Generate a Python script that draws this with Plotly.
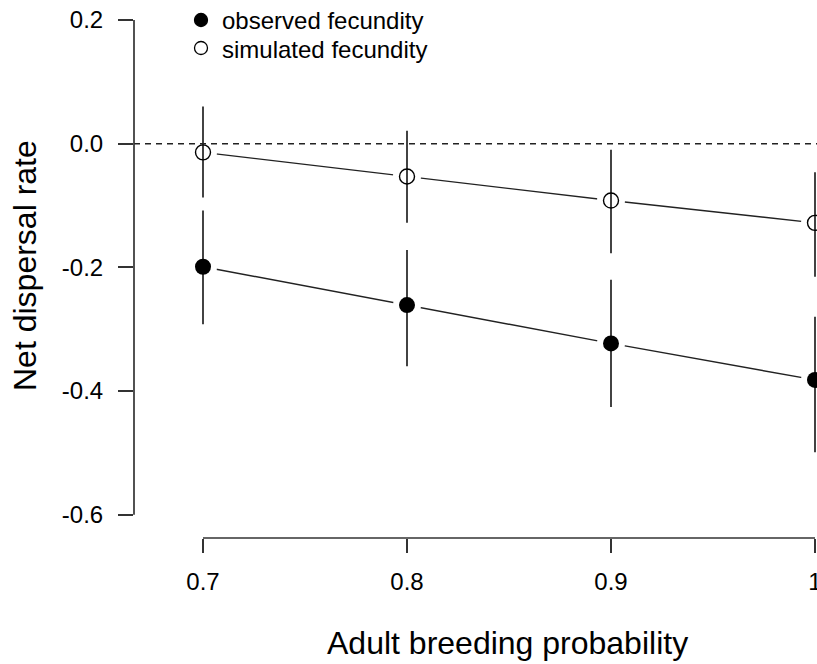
import plotly.graph_objects as go

# ---- data ----
breeding_prob = [0.7, 0.8, 0.9, 1.0]
x_tick_labels = ["0.7", "0.8", "0.9", "1"]
y_tick_vals = [-0.6, -0.4, -0.2, 0.0, 0.2]
y_tick_labels = ["-0.6", "-0.4", "-0.2", "0.0", "0.2"]

observed_mean = [-0.199, -0.261, -0.323, -0.382]
observed_low = [-0.292, -0.360, -0.426, -0.499]
observed_high = [-0.108, -0.172, -0.220, -0.280]

simulated_mean = [-0.014, -0.053, -0.092, -0.128]
simulated_low = [-0.087, -0.128, -0.177, -0.215]
simulated_high = [0.060, 0.021, -0.010, -0.046]

legend_labels = ["observed fecundity", "simulated fecundity"]

# ---- layout geometry ----
W, H = 817, 664
ML, MR, MT, MB = 134, 0, 5, 126
PW, PH = W - ML - MR, H - MT - MB
XPX = 2040.0   # px per x unit
YPX = 618.4    # px per y unit
x_lo = 0.7 - 69 / XPX
x_hi = x_lo + PW / XPX
y_hi = 0.2 + 15 / YPX
y_lo = y_hi - PH / YPX

INK = "#222222"
FONT = "Liberation Sans, Arial, sans-serif"

fig = go.Figure()

# connecting lines (type = "b" style, gaps made by white masks)
for ys in (observed_mean, simulated_mean):
    fig.add_trace(go.Scatter(x=breeding_prob, y=ys, mode="lines",
                             line=dict(color=INK, width=1.4),
                             showlegend=False, hoverinfo="skip"))
for ys in (observed_mean, simulated_mean):
    fig.add_trace(go.Scatter(x=breeding_prob, y=ys, mode="markers",
                             marker=dict(color="white", size=28, line=dict(width=0)),
                             showlegend=False, hoverinfo="skip"))

# points with error bars
fig.add_trace(go.Scatter(
    x=breeding_prob, y=observed_mean, mode="markers", name=legend_labels[0],
    marker=dict(symbol="circle", color="black", size=16, line=dict(width=0)),
    error_y=dict(type="data", symmetric=False,
                 array=[h - m for h, m in zip(observed_high, observed_mean)],
                 arrayminus=[m - l for m, l in zip(observed_mean, observed_low)],
                 color=INK, thickness=1.7, width=0),
    showlegend=False))
fig.add_trace(go.Scatter(
    x=breeding_prob, y=simulated_mean, mode="markers", name=legend_labels[1],
    marker=dict(symbol="circle-open", color="black", size=15, line=dict(width=1.4, color="black")),
    error_y=dict(type="data", symmetric=False,
                 array=[h - m for h, m in zip(simulated_high, simulated_mean)],
                 arrayminus=[m - l for m, l in zip(simulated_mean, simulated_low)],
                 color=INK, thickness=1.7, width=0),
    showlegend=False))

shapes = [
    # dashed reference line at zero
    dict(type="line", xref="paper", x0=0, x1=1, yref="y", y0=0, y1=0,
         line=dict(color=INK, width=1.5, dash="6px,5px"), layer="above"),
    # R-style axis lines spanning only the tick range
    dict(type="line", xref="paper", x0=0, x1=0, yref="y",
         y0=y_tick_vals[0], y1=y_tick_vals[-1], line=dict(color="#333333", width=1.7)),
    dict(type="line", xref="x", x0=breeding_prob[0], x1=breeding_prob[-1],
         yref="paper", y0=0, y1=0, line=dict(color="#333333", width=1.7)),
]

# legend (manual, R style)
def px_to_paper_x(px):
    return (px - ML) / PW

def px_to_paper_y(py):
    return (MT + PH - py) / PH

leg_rows = [21, 49]
for i, (label, yy) in enumerate(zip(legend_labels, leg_rows)):
    shapes.append(dict(type="circle", xref="paper", yref="paper",
                       xsizemode="pixel", ysizemode="pixel",
                       xanchor=px_to_paper_x(201), yanchor=px_to_paper_y(yy - 1),
                       x0=-6.5, x1=6.5, y0=-6.5, y1=6.5,
                       fillcolor="black" if i == 0 else "white",
                       line=dict(color="black", width=1.3)))

annotations = [
    dict(text=lab, xref="paper", yref="paper", x=px_to_paper_x(220), y=px_to_paper_y(yy),
         xanchor="left", yanchor="middle", showarrow=False,
         font=dict(family=FONT, size=24, color="black"))
    for lab, yy in zip(legend_labels, leg_rows)
]
annotations.append(dict(text="Adult breeding probability", xref="paper", yref="paper",
                        x=px_to_paper_x(507), y=px_to_paper_y(643),
                        xanchor="center", yanchor="middle", showarrow=False,
                        font=dict(family=FONT, size=32, color="black")))
annotations.append(dict(text="Net dispersal rate", xref="paper", yref="paper",
                        x=px_to_paper_x(25), y=px_to_paper_y(266), textangle=-90,
                        xanchor="center", yanchor="middle", showarrow=False,
                        font=dict(family=FONT, size=32, color="black")))

fig.update_layout(
    width=W, height=H,
    margin=dict(l=ML, r=MR, t=MT, b=MB, pad=0, autoexpand=False),
    paper_bgcolor="white", plot_bgcolor="white",
    shapes=shapes, annotations=annotations,
    showlegend=False,
    xaxis=dict(range=[x_lo, x_hi], showgrid=False, zeroline=False, showline=False,
               automargin=False,
               tickmode="array", tickvals=breeding_prob, ticktext=x_tick_labels,
               ticks="outside", ticklen=14, tickwidth=1.7, tickcolor="#333333",
               ticklabelstandoff=8, ticklabeloverflow="allow",
               tickfont=dict(family=FONT, size=24, color="black")),
    yaxis=dict(range=[y_lo, y_hi], showgrid=False, zeroline=False, showline=False,
               automargin=False,
               tickmode="array", tickvals=y_tick_vals, ticktext=y_tick_labels,
               ticks="outside", ticklen=15, tickwidth=1.7, tickcolor="#333333",
               ticklabelstandoff=10, ticklabeloverflow="allow",
               tickfont=dict(family=FONT, size=24, color="black")),
)

fig.write_html("out.html", config={"displayModeBar": False},
               post_script="document.body.style.margin='0';document.body.style.overflow='hidden';")
